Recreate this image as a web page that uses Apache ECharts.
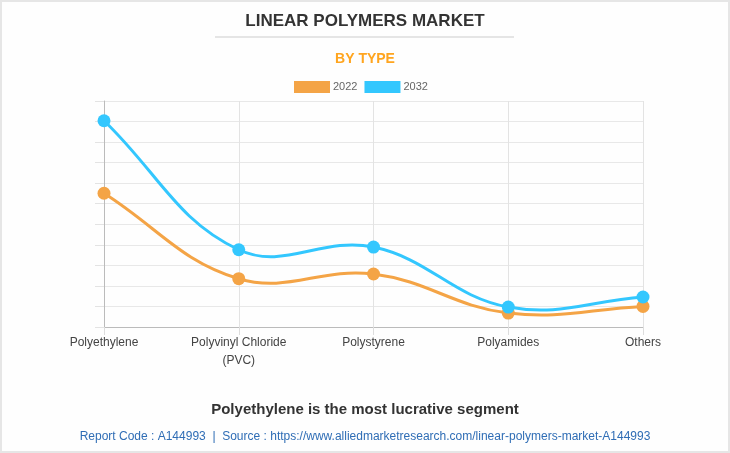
<!DOCTYPE html>
<html>
<head>
<meta charset="utf-8">
<script src="https://cdn.jsdelivr.net/npm/echarts@6/dist/echarts.min.js"></script>
<style>
html,body{margin:0;padding:0;background:#fff;}
#c{width:730px;height:453px;}
</style>
</head>
<body>
<div id="c"></div>
<script>
var categories = ['Polyethylene', 'Polyvinyl Chloride\n(PVC)', 'Polystyrene', 'Polyamides', 'Others'];
var values2022 = [6.51, 2.35, 2.58, 0.68, 1.0];
var values2032 = [10.04, 3.76, 3.89, 0.97, 1.46];
var seriesNames = ['2022', '2032'];
var colors = ['#F4A446', '#33C7FE'];

var TENSION = 0.4;
function splinePath(pts) {
  var d = 'M' + pts[0][0] + ' ' + pts[0][1];
  var cps = pts.map(function (cur, i) {
    var prev = pts[Math.max(i - 1, 0)];
    var next = pts[Math.min(i + 1, pts.length - 1)];
    var d01 = Math.hypot(cur[0] - prev[0], cur[1] - prev[1]);
    var d12 = Math.hypot(next[0] - cur[0], next[1] - cur[1]);
    var tot = d01 + d12 || 1;
    var fa = TENSION * d01 / tot, fb = TENSION * d12 / tot;
    return {
      prev: [cur[0] - fa * (next[0] - prev[0]), cur[1] - fa * (next[1] - prev[1])],
      next: [cur[0] + fb * (next[0] - prev[0]), cur[1] + fb * (next[1] - prev[1])]
    };
  });
  for (var i = 1; i < pts.length; i++) {
    var a = cps[i - 1].next, b = cps[i].prev;
    d += ' C' + a[0] + ' ' + a[1] + ' ' + b[0] + ' ' + b[1] + ' ' + pts[i][0] + ' ' + pts[i][1];
  }
  return d;
}

function curveSeries(name, values, color) {
  return {
    name: name, type: 'custom', coordinateSystem: 'cartesian2d',
    data: values.map(function (v, i) { return [i, v]; }),
    encode: {x: 0, y: 1},
    itemStyle: {color: color},
    z: 2,
    renderItem: function (params, api) {
      if (params.dataIndex !== 0) return null;
      var pts = values.map(function (v, i) { return api.coord([i, v]); });
      return {
        type: 'path',
        shape: {pathData: splinePath(pts)},
        style: {stroke: color, lineWidth: 3, fill: null}
      };
    }
  };
}

var chart = echarts.init(document.getElementById('c'), null, {renderer: 'canvas'});
chart.setOption({
  animation: false,
  backgroundColor: '#fefefe',
  title: [
    {text: 'LINEAR POLYMERS MARKET', left: 'center', top: 8,
     textStyle: {fontFamily: 'Arial, Liberation Sans', fontSize: 17, fontWeight: 'bold', color: '#333'}},
    {text: 'BY TYPE', left: 'center', top: 47,
     textStyle: {fontFamily: 'Arial, Liberation Sans', fontSize: 14, fontWeight: 'bold', color: '#FFA51F'}},
    {text: 'Polyethylene is the most lucrative segment', left: 'center', top: 397,
     textStyle: {fontFamily: 'Arial, Liberation Sans', fontSize: 15, fontWeight: 'bold', color: '#333'}},
    {text: 'Report Code : A144993  |  Source : https://www.alliedmarketresearch.com/linear-polymers-market-A144993', left: 'center', top: 426,
     textStyle: {fontFamily: 'Arial, Liberation Sans', fontSize: 12, fontWeight: 'normal', color: '#2F6DB5'}}
  ],
  graphic: [
    {type: 'rect', shape: {x: 1, y: 1, width: 728, height: 451}, style: {stroke: '#e6e6e6', lineWidth: 2, fill: null}, silent: true},
    {type: 'line', shape: {x1: 215, y1: 37, x2: 514, y2: 37}, style: {stroke: '#cccccc', lineWidth: 1}}
  ],
  legend: {
    top: 76, left: 289,
    itemWidth: 36, itemHeight: 12, itemGap: 7,
    icon: 'rect',
    textStyle: {fontFamily: 'Arial, Liberation Sans', fontSize: 11, color: '#666', padding: [0, 0, 0, -2]},
    data: seriesNames
  },
  grid: {left: 104, right: 87, top: 101, bottom: 126, containLabel: false},
  xAxis: {
    type: 'category', data: categories, boundaryGap: false,
    axisLine: {lineStyle: {color: '#bbb'}},
    axisTick: {show: true, length: 8, lineStyle: {color: '#ddd'}},
    axisLabel: {fontFamily: 'Arial, Liberation Sans', fontSize: 12, color: '#444', margin: 7, lineHeight: 18, interval: 0},
    splitLine: {show: true, lineStyle: {color: '#e3e3e3'}}
  },
  yAxis: {
    type: 'value', min: 0, max: 11, interval: 1,
    axisLine: {show: true, lineStyle: {color: '#bbb'}},
    axisTick: {show: true, length: 9, lineStyle: {color: '#e3e3e3'}},
    axisLabel: {show: false},
    splitLine: {show: true, lineStyle: {color: '#e8e8e8'}}
  },
  series: [
    curveSeries(seriesNames[0], values2022, colors[0]),
    curveSeries(seriesNames[1], values2032, colors[1]),
    {name: seriesNames[0], type: 'scatter', data: values2022, symbol: 'circle', symbolSize: 13,
     itemStyle: {color: colors[0], opacity: 1}, z: 3},
    {name: seriesNames[1], type: 'scatter', data: values2032, symbol: 'circle', symbolSize: 13,
     itemStyle: {color: colors[1], opacity: 1}, z: 4}
  ]
});
</script>
</body>
</html>
